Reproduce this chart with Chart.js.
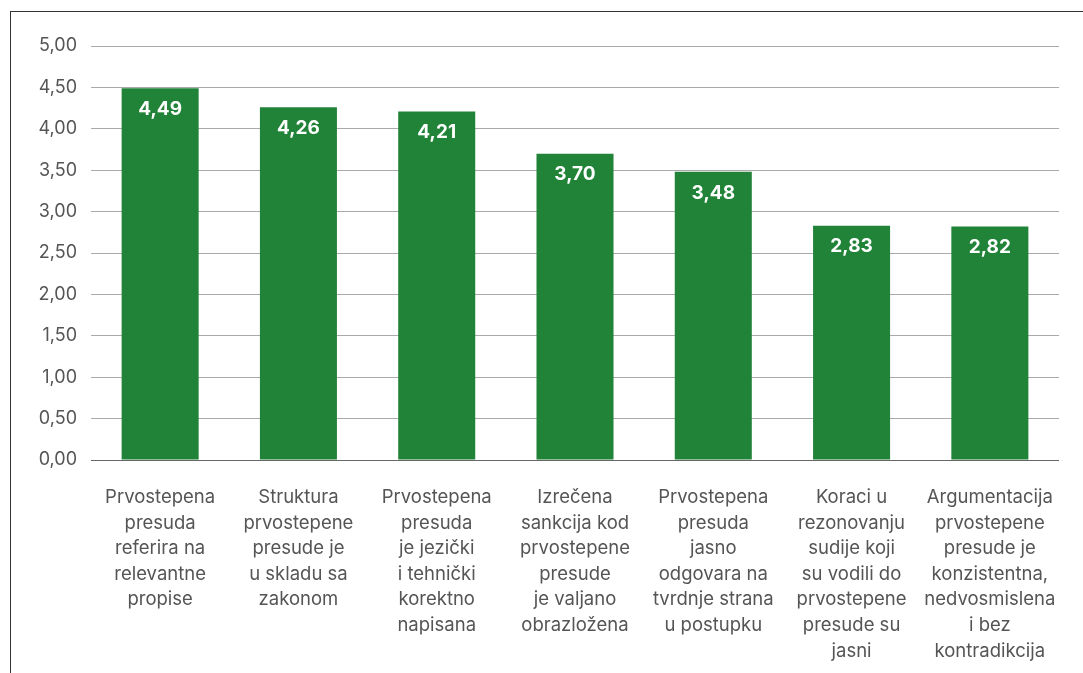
<!DOCTYPE html>
<html>
<head>
<meta charset="utf-8">
<script src="https://cdn.jsdelivr.net/npm/chart.js@4/dist/chart.umd.min.js"></script>
<style>
  html, body { margin: 0; padding: 0; background: #fff; }
  #wrap { position: relative; width: 1083px; height: 673px; overflow: hidden; }
  #frame { position: absolute; left: 10px; top: 11px; width: 1080px; height: 670px;
           border-left: 1px solid #333; border-top: 1px solid #333; box-sizing: border-box; }
  canvas { position: absolute; left: 0; top: 0; }
</style>
</head>
<body>
<div id="wrap">
  <div id="frame"></div>
  <canvas id="c" width="1083" height="673"></canvas>
</div>
<script>
const categories = [
  ["Prvostepena","presuda","referira na","relevantne","propise"],
  ["Struktura","prvostepene","presude je","u skladu sa","zakonom"],
  ["Prvostepena","presuda","je jezički","i tehnički","korektno","napisana"],
  ["Izrečena","sankcija kod","prvostepene","presude","je valjano","obrazložena"],
  ["Prvostepena","presuda","jasno","odgovara na","tvrdnje strana","u postupku"],
  ["Koraci u","rezonovanju","sudije koji","su vodili do","prvostepene","presude su","jasni"],
  ["Argumentacija","prvostepene","presude je","konzistentna,","nedvosmislena","i bez","kontradikcija"]
];
const values = [4.49, 4.26, 4.21, 3.70, 3.48, 2.83, 2.82];
const yMin = 0, yMax = 5, yStep = 0.5;

const fmt = v => v.toFixed(2).replace('.', ',');
const FONT = "Inter, 'Open Sans', sans-serif";

const labelPlugin = {
  id: 'barLabels',
  afterDatasetsDraw(chart) {
    const ctx = chart.ctx;
    const meta = chart.getDatasetMeta(0);
    ctx.save();
    ctx.fillStyle = '#ffffff';
    ctx.font = "bold 19px " + FONT;
    ctx.textAlign = 'center';
    ctx.textBaseline = 'middle';
    meta.data.forEach((bar, i) => {
      ctx.fillText(fmt(values[i]), bar.x, bar.y + 21);
    });
    ctx.restore();
  }
};

new Chart(document.getElementById('c'), {
  type: 'bar',
  data: {
    labels: categories,
    datasets: [{
      data: values,
      backgroundColor: '#218338',
      borderWidth: 0,
      categoryPercentage: 1,
      barPercentage: 0.557
    }]
  },
  options: {
    responsive: false,
    animation: false,
    devicePixelRatio: 1,
    layout: { padding: { top: 46, right: 24, left: 28, bottom: 6 } },
    plugins: { legend: { display: false }, tooltip: { enabled: false } },
    scales: {
      x: {
        afterFit: s => { s.height = 207; },
        grid: { display: false, drawTicks: false },
        border: { display: false },
        ticks: {
          color: '#555',
          font: { family: FONT, size: 18.5, lineHeight: 1.38 },
          padding: 25,
          maxRotation: 0, autoSkip: false
        }
      },
      y: {
        min: yMin, max: yMax,
        afterFit: s => { s.width = 63; },
        grid: {
          drawTicks: false,
          color: ctx => ctx.tick && ctx.tick.value === 0 ? '#666' : '#aaa',
          lineWidth: 1
        },
        border: { display: false },
        ticks: {
          stepSize: yStep,
          color: '#555',
          padding: 14,
          font: { family: FONT, size: 18 },
          callback: v => fmt(v)
        }
      }
    }
  },
  plugins: [labelPlugin]
});
</script>
</body>
</html>
